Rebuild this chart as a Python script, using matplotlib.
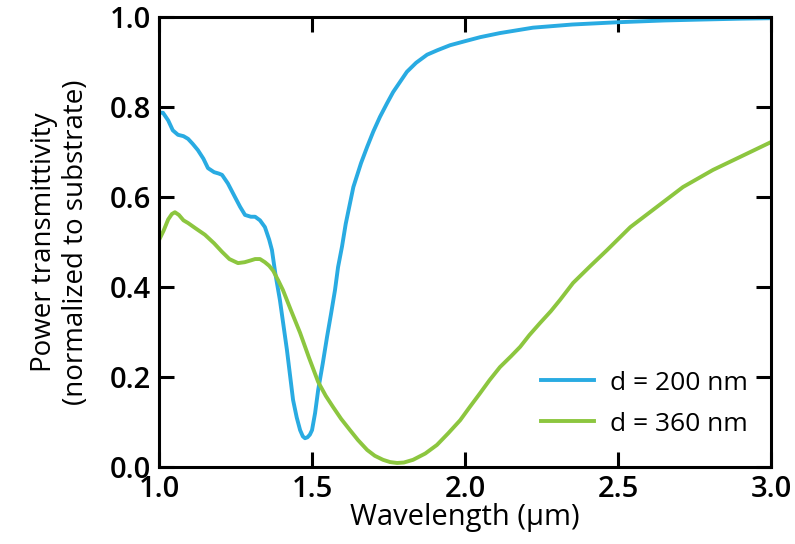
import matplotlib
matplotlib.use("Agg")
import matplotlib.pyplot as plt

plt.rcParams['font.family'] = ['Open Sans', 'DejaVu Sans']

# d = 200 nm film
wl_200 = [1.00, 1.013, 1.03, 1.045, 1.062, 1.08, 1.095, 1.11, 1.127, 1.145,
          1.16, 1.18, 1.195, 1.206, 1.225, 1.248, 1.265, 1.281, 1.30, 1.314,
          1.33, 1.346, 1.36, 1.369, 1.38, 1.395, 1.418, 1.438, 1.45, 1.461,
          1.47, 1.477, 1.485, 1.493, 1.50, 1.51, 1.52, 1.535, 1.549, 1.562,
          1.575, 1.585, 1.598, 1.61, 1.635, 1.66, 1.68, 1.70, 1.722, 1.745,
          1.765, 1.79, 1.81, 1.84, 1.876, 1.91, 1.951, 2.0, 2.05, 2.114,
          2.222, 2.35, 2.497, 2.65, 2.77, 2.9, 3.0]
tr_200 = [0.787, 0.787, 0.77, 0.748, 0.738, 0.735, 0.729, 0.718, 0.704, 0.685,
          0.664, 0.655, 0.652, 0.649, 0.63, 0.60, 0.578, 0.56, 0.556, 0.556,
          0.548, 0.533, 0.505, 0.482, 0.43, 0.371, 0.26, 0.149, 0.11, 0.082,
          0.068, 0.064, 0.066, 0.072, 0.082, 0.12, 0.171, 0.23, 0.289, 0.34,
          0.393, 0.444, 0.49, 0.54, 0.622, 0.675, 0.711, 0.745, 0.778, 0.808,
          0.833, 0.858, 0.878, 0.898, 0.916, 0.926, 0.937, 0.946, 0.955, 0.964,
          0.976, 0.983, 0.988, 0.992, 0.994, 0.996, 0.997]

# d = 360 nm film
wl_360 = [1.00, 1.015, 1.03, 1.042, 1.052, 1.065, 1.08, 1.095, 1.12, 1.15,
          1.18, 1.206, 1.23, 1.258, 1.28, 1.30, 1.314, 1.33, 1.346, 1.36,
          1.373, 1.39, 1.405, 1.43, 1.461, 1.49, 1.52, 1.545, 1.569, 1.595,
          1.624, 1.65, 1.68, 1.705, 1.732, 1.755, 1.778, 1.80, 1.83, 1.87,
          1.908, 1.945, 1.984, 2.015, 2.049, 2.08, 2.114, 2.15, 2.18, 2.21,
          2.245, 2.28, 2.31, 2.353, 2.41, 2.464, 2.54, 2.627, 2.712, 2.81,
          2.899, 3.0]
tr_360 = [0.504, 0.525, 0.55, 0.562, 0.566, 0.56, 0.548, 0.542, 0.53, 0.516,
          0.497, 0.478, 0.462, 0.453, 0.455, 0.459, 0.462, 0.462, 0.455, 0.447,
          0.436, 0.414, 0.393, 0.35, 0.298, 0.243, 0.189, 0.158, 0.133, 0.107,
          0.082, 0.06, 0.038, 0.025, 0.016, 0.011, 0.009, 0.01, 0.016, 0.03,
          0.049, 0.075, 0.104, 0.133, 0.164, 0.193, 0.222, 0.246, 0.267, 0.293,
          0.32, 0.346, 0.371, 0.409, 0.447, 0.482, 0.533, 0.578, 0.622, 0.66,
          0.689, 0.722]

labels = ['d = 200 nm', 'd = 360 nm']
colors = ['#29abe2', '#8cc63f']

x_ticks = [1.0, 1.5, 2.0, 2.5, 3.0]
y_ticks = [0.0, 0.2, 0.4, 0.6, 0.8, 1.0]

fig = plt.figure(figsize=(7.95, 5.44), dpi=100)
ax = fig.add_axes([0.2, 0.1415, 0.77, 0.8275])

ax.plot(wl_200, tr_200, color=colors[0], lw=2.8, label=labels[0])
ax.plot(wl_360, tr_360, color=colors[1], lw=2.8, label=labels[1])

ax.set_xlim(1.0, 3.0)
ax.set_ylim(0.0, 1.0)
ax.set_xticks(x_ticks)
ax.set_yticks(y_ticks)
ax.set_xticklabels([f'{v:.1f}' for v in x_ticks])
ax.set_yticklabels([f'{v:.1f}' for v in y_ticks])

for s in ax.spines.values():
    s.set_linewidth(2.2)
ax.tick_params(direction='in', length=11, width=2.2, top=True, right=True,
               labelsize=21, pad=6)
for lab in ax.get_xticklabels() + ax.get_yticklabels():
    lab.set_fontweight('semibold')

ax.set_xlabel('Wavelength (\u03bcm)', fontsize=21, fontweight='medium',
              labelpad=-1)
ax.set_ylabel('Power transmittivity\n(normalized to substrate)', fontsize=20,
              fontweight='medium', labelpad=14, linespacing=1.2)

ax.legend(loc='lower right', bbox_to_anchor=(1.0, 0.015), frameon=False,
          fontsize=19, handlelength=2.0, handletextpad=0.6, labelspacing=0.6)

fig.savefig('out.png', dpi=100)
